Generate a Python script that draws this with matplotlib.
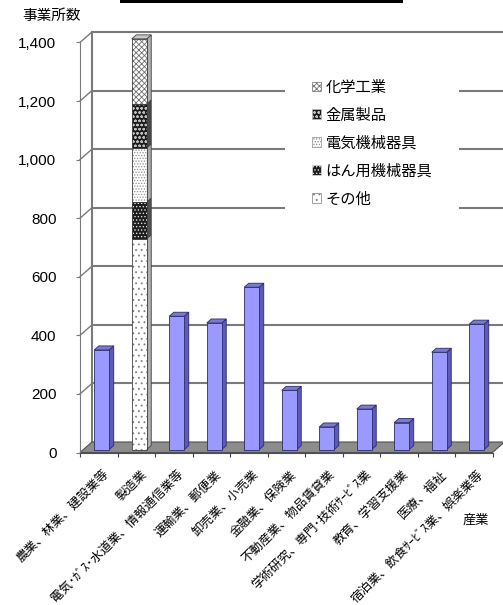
import matplotlib.pyplot as plt
from matplotlib.patches import Polygon, Patch, Rectangle
import numpy as np

plt.rcParams['font.family'] = ['Noto Sans CJK JP', 'DejaVu Sans']
plt.rcParams['hatch.linewidth'] = 0.6

# 産業別の事業所数
industries = ['農業、林業、建設業等', '製造業', '電気･ｶﾞｽ･水道業、情報通信業等',
              '運輸業、郵便業', '卸売業、小売業', '金融業、保険業',
              '不動産業、物品賃貸業', '学術研究、専門･技術ｻｰﾋﾞｽ業',
              '教育、学習支援業', '医療、福祉', '宿泊業、飲食ｻｰﾋﾞｽ業、娯楽業等']
counts = [340, 0, 455, 432, 554, 202, 77, 138, 92, 332, 428]

# 製造業の内訳（下から積み上げ）
mfg_labels = ['その他', 'はん用機械器具', '電気機械器具', '金属製品', '化学工業']
mfg_values = [720, 125, 185, 150, 222]

yticks = [0, 200, 400, 600, 800, 1000, 1200, 1400]

W, H = 503, 605
fig = plt.figure(figsize=(W / 100, H / 100), dpi=100)

# axes geometry in pixels
left_px, right_px, top_px, base_px = 80, 503, 25, 452.5
ax = fig.add_axes([left_px / W, (H - base_px) / H,
                   (right_px - left_px) / W, (base_px - top_px) / H])
xl, xr = -0.5, -0.5 + (right_px - left_px) / 37.5
ymax = (base_px - top_px) / 0.2929
ax.set_xlim(xl, xr)
ax.set_ylim(0, ymax)

ux = (xr - xl) / (right_px - left_px)   # data units per pixel
uy = ymax / (base_px - top_px)

def px(dx, dy):
    return dx * ux, dy * uy

wall_dx, wall_dy = px(12, 10.5)
bar_dx, bar_dy = px(3, 3)
dep_dx, dep_dy = px(4.5, 4)
n = len(industries)
xend = n - 0.5

# back wall gridlines
for v in yticks[1:]:
    ax.plot([xl + wall_dx, xend + wall_dx], [v + wall_dy, v + wall_dy],
            color='#7a7a7a', lw=1.5, zorder=1, clip_on=False)
    ax.plot([xl, xl + wall_dx], [v, v + wall_dy], color='#7a7a7a', lw=1.0,
            zorder=1, clip_on=False)
ax.plot([xl + wall_dx, xl + wall_dx], [wall_dy, 1400 + wall_dy],
        color='#7a7a7a', lw=1.5, zorder=1, clip_on=False)

# floor
floor = Polygon([(xl, 0), (xend, 0), (xend + wall_dx, wall_dy), (xl + wall_dx, wall_dy)],
                closed=True, facecolor='#8c8c8c', edgecolor='#505050', lw=0.8,
                zorder=2, clip_on=False)
ax.add_patch(floor)


def faces(x0, x1, y0, y1, side, top, ec, top_face=True):
    sd = Polygon([(x1, y0), (x1 + dep_dx, y0 + dep_dy), (x1 + dep_dx, y1 + dep_dy), (x1, y1)],
                 closed=True, facecolor=side, edgecolor=ec, lw=0.6, zorder=3, clip_on=False)
    ax.add_patch(sd)
    if top_face:
        tp = Polygon([(x0, y1), (x0 + dep_dx, y1 + dep_dy), (x1 + dep_dx, y1 + dep_dy), (x1, y1)],
                     closed=True, facecolor=top, edgecolor=ec, lw=0.6, zorder=3, clip_on=False)
        ax.add_patch(tp)


bw = 15 * ux
xs = np.arange(n) + bar_dx
others = [i for i in range(n) if i != 1]
ax.bar(xs[others], [counts[i] for i in others], width=bw, bottom=bar_dy,
       color='#9999ff', edgecolor='#2b2b6b', lw=0.6, zorder=4)
for i in others:
    faces(xs[i] - bw / 2, xs[i] + bw / 2, bar_dy, bar_dy + counts[i],
          '#5c5cb4', '#7a7ad0', '#2b2b6b')

# 製造業 stacked column with patterns
styles = {
    'その他': dict(fc='white', hc='#808080', hatch='...', side='#b0b0b0'),
    'はん用機械器具': dict(fc='#1c1c1c', hc='#e0e0e0', hatch='.....', side='#505050'),
    '電気機械器具': dict(fc='white', hc='#909090', hatch='......', side='#a8a8a8'),
    '金属製品': dict(fc='#1c1c1c', hc='#bdbdbd', hatch='oooo', side='#484848'),
    '化学工業': dict(fc='white', hc='#707070', hatch='xxxxxx', side='#b0b0b0'),
}
bottom = bar_dy
for k, (lab, v) in enumerate(zip(mfg_labels, mfg_values)):
    st = styles[lab]
    ax.bar(xs[1], v, width=bw, bottom=bottom, color=st['fc'], edgecolor=st['hc'],
           hatch=st['hatch'], lw=0, zorder=4)
    ax.bar(xs[1], v, width=bw, bottom=bottom, fill=False, edgecolor='#404040',
           lw=0.6, zorder=4)
    faces(xs[1] - bw / 2, xs[1] + bw / 2, bottom, bottom + v, st['side'], '#c8c8c8',
          '#404040', top_face=(k == len(mfg_labels) - 1))
    bottom += v

# axes: front left spine and floor front edge with ticks
for s in ['top', 'right']:
    ax.spines[s].set_visible(False)
ax.spines['left'].set_bounds(0, 1400)
ax.spines['left'].set_color('#7a7a7a')
ax.spines['bottom'].set_bounds(xl, xend)
ax.spines['bottom'].set_color('#505050')
ax.set_yticks(yticks)
ax.set_yticklabels([f'{v:,}' for v in yticks], family='Liberation Sans', fontsize=11)
ax.tick_params(axis='y', length=3, pad=14, color='#7a7a7a')
ax.set_xticks(np.arange(-0.5, n, 1.0))
ax.set_xticklabels([])
ax.tick_params(axis='x', length=3, color='#404040')

for i, name in enumerate(industries):
    ax.annotate(name, xy=(i, 0), xytext=(6, -14.5), textcoords='offset points',
                rotation=45, rotation_mode='anchor', ha='right', va='center',
                fontsize=9, annotation_clip=False)

handles = [Patch(facecolor=styles[l]['fc'], edgecolor=styles[l]['hc'],
                 hatch=styles[l]['hatch'], lw=0.5) for l in mfg_labels[::-1]]
leg = ax.legend(handles, mfg_labels[::-1], loc='upper left',
                bbox_to_anchor=(285 / W, 1 - 52 / H), bbox_transform=fig.transFigure,
                fontsize=11, frameon=True, fancybox=False, framealpha=1,
                edgecolor='none', facecolor='white', handlelength=0.6,
                handleheight=0.6, handletextpad=0.3, labelspacing=0.72,
                borderpad=1.75, borderaxespad=0)
leg.set_zorder(6)

fig.text(22 / W, 1 - 16 / H, '事業所数', fontsize=10.5, va='center', ha='left')
fig.text(463 / W, 1 - 520 / H, '産業', fontsize=9.5, va='center', ha='left')
fig.patches.append(Rectangle((120 / W, 1 - 2.5 / H), 283 / W, 2.5 / H,
                             transform=fig.transFigure, facecolor='black', edgecolor='none'))

fig.savefig('out.png', dpi=100)
